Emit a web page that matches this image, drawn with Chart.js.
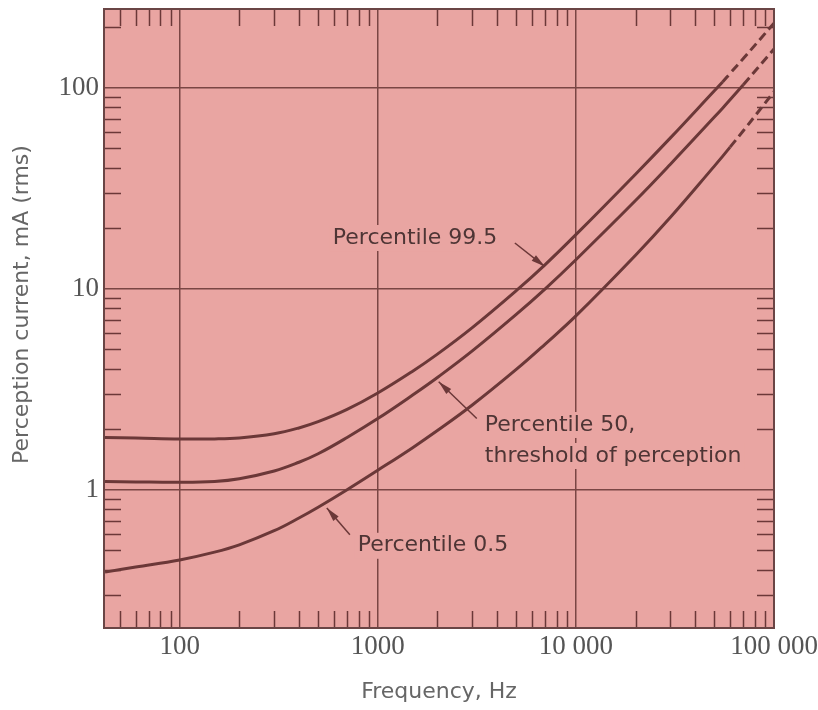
<!DOCTYPE html>
<html>
<head>
<meta charset="utf-8">
<script src="https://cdn.jsdelivr.net/npm/chart.js@4.4.0/dist/chart.umd.min.js"></script>
<style>
    html, body { margin: 0; padding: 0; background: #fff; }
    #wrap { width: 818px; height: 710px; }
</style>
</head>
<body>
<div id="wrap"><canvas id="chart"></canvas></div>
<script>
// frequencies (Hz) shared by the three curves
var freqs = [42, 60, 100, 150, 200, 300, 400, 500, 700, 1000, 1500, 2000, 3000, 5000, 7000, 10000, 20000, 30000, 50000, 55000, 60000, 70000, 100000];
// perception current, mA (rms)
var p995 = [1.82, 1.81, 1.79, 1.79, 1.81, 1.90, 2.03, 2.18, 2.51, 3.03, 3.89, 4.73, 6.41, 9.79, 13.2, 18.6, 37.2, 56.4, 96.8, 107, 118, 140, 210];
var p50  = [1.10, 1.094, 1.089, 1.10, 1.135, 1.24, 1.37, 1.51, 1.82, 2.26, 2.96, 3.62, 4.91, 7.46, 10.0, 13.96, 27.5, 41.7, 71.6, 79.3, 87.3, 103.8, 156];
var p05  = [0.389, 0.412, 0.447, 0.489, 0.532, 0.625, 0.723, 0.818, 1.0, 1.25, 1.62, 1.97, 2.64, 3.97, 5.31, 7.33, 14.7, 22.7, 40.8, 45.6, 50.7, 61.2, 95.7];
// where each curve turns into a dashed extrapolation
var dashFrom = [55000, 70000, 60000];

var xTicks = [100, 1000, 10000, 100000];
var xTickLabels = ['100', '1000', '10 000', '100 000'];
var yTicks = [1, 10, 100];
var yTickLabels = ['1', '10', '100'];
var xMinor = [50, 60, 70, 80, 90, 200, 300, 400, 500, 600, 700, 800, 900, 2000, 3000, 4000, 5000, 6000, 7000, 8000, 9000, 20000, 30000, 40000, 50000, 60000, 70000, 80000, 90000];
var yMinor = [0.3, 0.4, 0.5, 0.6, 0.7, 0.8, 0.9, 2, 3, 4, 5, 6, 7, 8, 9, 20, 30, 40, 50, 60, 70, 80, 90, 200];

// labels on the chart with their arrows (data coordinates)
var notes = [
    { lines: ['Percentile 99.5'], x: 593, y: 17.9, arrow: [4920, 16.9, 6970, 12.9] },
    { lines: ['Percentile 50,', 'threshold of perception'], x: 3470, y: 2.1, arrow: [3160, 2.26, 2030, 3.45] },
    { lines: ['Percentile 0.5'], x: 793, y: 0.526, arrow: [723, 0.597, 553, 0.81] }
];

var bgColor = '#e9a5a2';
var lineColor = '#6b3838';
var gridColor = '#7a4644';

function makeSet(vals, idx) {
    return {
        data: freqs.map(function(f, i) { return { x: f, y: vals[i] }; }),
        borderColor: lineColor,
        borderWidth: 3,
        pointRadius: 0,
        tension: 0.4,
        segment: {
            borderDash: function(ctx) {
                return ctx.p0.parsed.x >= dashFrom[idx] ? [9, 5] : undefined;
            }
        }
    };
}

function drawArrow(ctx, x1, y1, x2, y2) {
    var ang = Math.atan2(y2 - y1, x2 - x1);
    ctx.beginPath();
    ctx.moveTo(x1, y1);
    ctx.lineTo(x2, y2);
    ctx.lineWidth = 1.5;
    ctx.stroke();
    ctx.save();
    ctx.translate(x2, y2);
    ctx.rotate(ang);
    ctx.beginPath();
    ctx.moveTo(0, 0);
    ctx.lineTo(-14, -3.5);
    ctx.lineTo(-14, 3.5);
    ctx.closePath();
    ctx.fill();
    ctx.restore();
}

var paperPlugin = {
    id: 'paper',
    beforeDraw: function(chart) {
        var ctx = chart.ctx, a = chart.chartArea;
        ctx.save();
        ctx.fillStyle = '#fff';
        ctx.fillRect(0, 0, chart.width, chart.height);
        ctx.fillStyle = bgColor;
        ctx.fillRect(a.left, a.top, a.right - a.left, a.bottom - a.top);
        ctx.restore();
    },
    afterDatasetsDraw: function(chart) {
        var ctx = chart.ctx, a = chart.chartArea;
        var xs = chart.scales.x, ys = chart.scales.y;
        ctx.save();
        ctx.strokeStyle = lineColor;
        ctx.fillStyle = lineColor;

        // small tick marks on the four edges
        ctx.lineWidth = 1.5;
        ctx.beginPath();
        xMinor.forEach(function(v) {
            var px = Math.round(xs.getPixelForValue(v)) + 0.5;
            ctx.moveTo(px, a.bottom); ctx.lineTo(px, a.bottom - 17);
            ctx.moveTo(px, a.top); ctx.lineTo(px, a.top + 17);
        });
        yMinor.forEach(function(v) {
            var py = Math.round(ys.getPixelForValue(v)) + 0.5;
            ctx.moveTo(a.left, py); ctx.lineTo(a.left + 17, py);
            ctx.moveTo(a.right, py); ctx.lineTo(a.right - 17, py);
        });
        ctx.stroke();

        // notes
        ctx.font = '22px "DejaVu Sans"';
        ctx.textBaseline = 'middle';
        ctx.textAlign = 'left';
        notes.forEach(function(n) {
            var px = xs.getPixelForValue(n.x), py = ys.getPixelForValue(n.y);
            n.lines.forEach(function(t, i) {
                var w = ctx.measureText(t).width;
                ctx.fillStyle = bgColor;
                ctx.fillRect(px - 3, py + i * 31 - 13, w + 6, 26);
                ctx.fillStyle = '#4e3535';
                ctx.fillText(t, px, py + i * 31);
            });
            ctx.fillStyle = lineColor;
            drawArrow(ctx, xs.getPixelForValue(n.arrow[0]), ys.getPixelForValue(n.arrow[1]),
                xs.getPixelForValue(n.arrow[2]), ys.getPixelForValue(n.arrow[3]));
        });

        // frame
        ctx.lineWidth = 2;
        ctx.strokeStyle = '#6a4545';
        ctx.strokeRect(a.left, a.top, a.right - a.left, a.bottom - a.top);
        ctx.restore();
    }
};

var tickFont = { family: '"Liberation Serif"', size: 27 };
var titleFont = { family: '"DejaVu Sans"', size: 22 };

new Chart(document.getElementById('chart'), {
    type: 'line',
    data: { datasets: [makeSet(p995, 0), makeSet(p50, 1), makeSet(p05, 2)] },
    options: {
        responsive: true,
        maintainAspectRatio: false,
        animation: false,
        layout: { padding: { top: 9, right: 44, bottom: 0, left: 0 } },
        plugins: { legend: { display: false }, tooltip: { enabled: false } },
        scales: {
            x: {
                type: 'logarithmic',
                min: 41.5,
                max: 100000,
                afterBuildTicks: function(scale) {
                    scale.ticks = xTicks.map(function(v) { return { value: v }; });
                },
                afterFit: function(scale) {
                    scale.height = 82;
                    scale.paddingLeft = 0;
                    scale.paddingRight = 0;
                },
                ticks: {
                    callback: function(v, i) { return xTickLabels[i]; },
                    font: tickFont,
                    color: '#555',
                    padding: 3,
                    maxRotation: 0,
                    autoSkip: false
                },
                grid: { color: gridColor, lineWidth: 1.5, drawTicks: false },
                border: { display: false },
                title: {
                    display: true,
                    text: 'Frequency, Hz',
                    font: titleFont,
                    color: '#666',
                    padding: { top: 0, bottom: 5 }
                }
            },
            y: {
                type: 'logarithmic',
                min: 0.205,
                max: 247,
                afterBuildTicks: function(scale) {
                    scale.ticks = yTicks.map(function(v) { return { value: v }; });
                },
                afterFit: function(scale) {
                    scale.width = 104;
                    scale.paddingTop = 0;
                    scale.paddingBottom = 0;
                },
                ticks: {
                    callback: function(v, i) { return yTickLabels[i]; },
                    font: tickFont,
                    color: '#555',
                    padding: 5,
                    autoSkip: false
                },
                grid: { color: gridColor, lineWidth: 1.5, drawTicks: false },
                border: { display: false },
                title: {
                    display: true,
                    // leading spaces nudge the centred title upwards like the original
                    text: '    Perception current, mA (rms)',
                    font: titleFont,
                    color: '#666',
                    padding: { top: 9, bottom: 0 }
                }
            }
        }
    },
    plugins: [paperPlugin]
});
</script>
</body>
</html>
